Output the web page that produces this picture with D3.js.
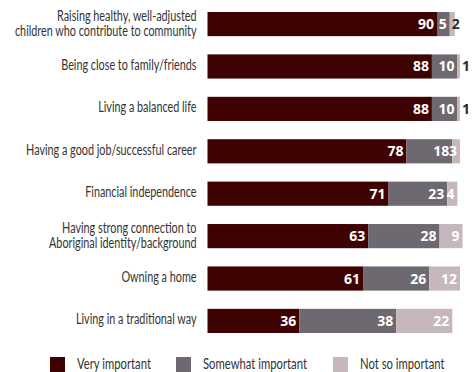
<!DOCTYPE html>
<html>
<head>
<meta charset="utf-8">
<script src="https://cdn.jsdelivr.net/npm/d3@7"></script>
<style>
  html, body { margin: 0; padding: 0; background: #fff; }
  svg { display: block; }
</style>
</head>
<body>
<svg id="chart" width="472" height="372"></svg>
<script>
// Importance ratings (percent) for each life goal
const categories = [
  ["Raising healthy, well-adjusted", "children who contribute to community"],
  ["Being close to family/friends"],
  ["Living a balanced life"],
  ["Having a good job/successful career"],
  ["Financial independence"],
  ["Having strong connection to", "Aboriginal identity/background"],
  ["Owning a home"],
  ["Living in a traditional way"]
];
const veryImportant     = [90, 88, 88, 78, 71, 63, 61, 36];
const somewhatImportant = [5, 10, 10, 18, 23, 28, 26, 38];
const notSoImportant    = [2, 1, 1, 3, 4, 9, 12, 22];
const seriesNames  = ["Very important", "Somewhat important", "Not so important"];
const seriesColors = ["#3e0202", "#6e6971", "#c5b7bb"];

const svg = d3.select("#chart");
const labelFont = "Lato, 'Noto Sans', sans-serif";
const valueFont = "'Open Sans', 'DejaVu Sans', sans-serif";
const labelRight = 196.5;
const labelSize = 14.5;

const x = d3.scaleLinear().domain([0, 100]).range([207.5, 462.5]);
const y = d3.scaleBand().domain(d3.range(categories.length))
  .range([3.5, 341.5]).paddingInner(0.43).paddingOuter(0.2);

const rows = categories.map((c, i) => ({
  i, very: veryImportant[i], some: somewhatImportant[i], not: notSoImportant[i]
}));
const stack = d3.stack().keys(["very", "some", "not"])(rows);

// bar segments
const layers = svg.append("g").selectAll("g").data(stack).join("g")
  .attr("fill", (d, k) => seriesColors[k]);
layers.selectAll("rect").data(d => d).join("rect")
  .attr("x", d => x(d[0]))
  .attr("y", d => y(d.data.i))
  .attr("width", d => x(d[1]) - x(d[0]))
  .attr("height", y.bandwidth());

// value labels: white inside the segment, dark just past tiny segments
layers.each(function(layer) {
  d3.select(this).selectAll("text").data(layer).join("text")
    .attr("font-family", valueFont)
    .attr("font-weight", 700)
    .attr("font-size", 14)
    .attr("y", d => y(d.data.i) + y.bandwidth() / 2 + 5)
    .each(function(d) {
      const v = d[1] - d[0];
      const t = d3.select(this).text(v);
      if (v <= 2) {
        const px = v < 2 ? x(d[1]) + 2 : x(d[0]) + 2;
        t.attr("x", px).attr("text-anchor", "start").attr("fill", "#2b2b2b");
      } else {
        t.attr("x", x(d[1]) - 3).attr("text-anchor", "end").attr("fill", "#fff");
      }
    });
});

// category labels, compressed horizontally to a condensed width
const catG = svg.append("g");
const cat = catG.selectAll("text").data(categories).join("text")
  .attr("font-family", labelFont)
  .attr("font-size", labelSize)
  .attr("fill", "#333")
  .attr("text-anchor", "end");
cat.each(function(lines, i) {
  const cy = y(i) + y.bandwidth() / 2;
  const start = lines.length === 1 ? cy + 3.5 : cy - 3;
  d3.select(this).selectAll("tspan").data(lines).join("tspan")
    .attr("x", labelRight)
    .attr("y", (l, j) => start + j * 14.5)
    .text(l => l);
});
const lineWidth = (i, j) => cat.filter((d, k) => k === i).selectAll("tspan")
  .filter((d, k) => k === j).node().getComputedTextLength();
const squeeze = (183.5 / lineWidth(0, 1) + 134 / lineWidth(1, 0)) / 2;
catG.attr("transform", `translate(${labelRight},0) scale(${squeeze},1) translate(${-labelRight},0)`);

// legend
const legendX = [50, 176, 333];
const legend = svg.append("g").selectAll("g").data(seriesNames).join("g")
  .attr("transform", (d, k) => `translate(${legendX[k]},357)`);
legend.append("rect").attr("width", 15).attr("height", 16)
  .attr("fill", (d, k) => seriesColors[k]);
const legendText = legend.append("text").attr("x", 27).attr("y", 12)
  .attr("font-family", labelFont).attr("font-size", labelSize)
  .attr("fill", "#333")
  .text(d => d);
const legendSqueeze = 104 / legendText.filter((d, k) => k === 1).node().getComputedTextLength();
legendText.attr("transform", `translate(27,0) scale(${legendSqueeze},1) translate(-27,0)`);
</script>
</body>
</html>
